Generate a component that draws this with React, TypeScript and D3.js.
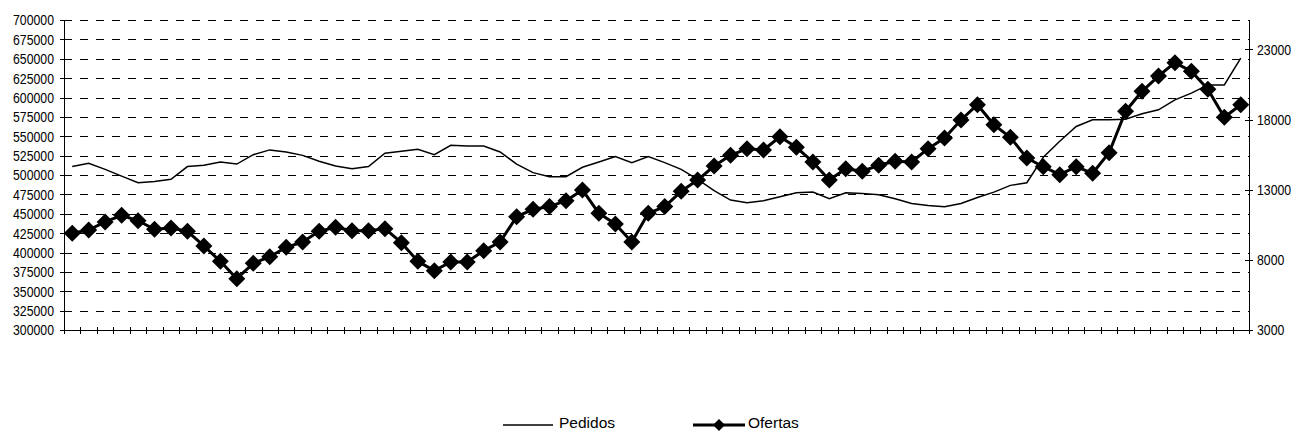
import React from "react";
import * as d3 from "d3";

const categories: string[] = Array.from({ length: 72 }, (_, i) => `P${i + 1}`);

const ofertas: number[] = [
  425000, 429000, 439400, 448000, 441000, 430000, 431600, 427300, 408400, 388600,
  366200, 386000, 394600, 406700, 413600, 427300, 432500, 428000, 428200, 430800,
  412700, 388600, 376600, 387700, 387700, 402400, 413600, 446200, 455700, 459200,
  466900, 480700, 450600, 436800, 413600, 450600, 459200, 478900, 493500, 511600,
  525400, 534000, 532300, 549400, 535700, 516800, 493500, 508200, 504800, 512500,
  517700, 516800, 534000, 547700, 571000, 590700, 564900, 548600, 521900, 510700,
  500400, 510700, 502200, 528800, 582200, 608000, 627700, 644900, 633800, 610600,
  574500, 590700,
];

const pedidos: number[] = [
  14650, 14880, 14450, 13970, 13500, 13590, 13740, 14650, 14740, 14980,
  14830, 15500, 15840, 15690, 15450, 15030, 14690, 14500, 14650, 15600,
  15740, 15890, 15500, 16170, 16120, 16120, 15690, 14830, 14220, 13930,
  13930, 14600, 14980, 15360, 14930, 15360, 14930, 14450, 13740, 12930,
  12260, 12070, 12210, 12500, 12790, 12830, 12360, 12790, 12740, 12640,
  12360, 12020, 11880, 11780, 12020, 12450, 12830, 13310, 13500, 15310,
  16460, 17510, 17980, 17980, 18030, 18410, 18700, 19410, 19890, 20470,
  20470, 22380,
];

const leftTicks: number[] = [300000, 325000, 350000, 375000, 400000, 425000, 450000, 475000, 500000, 525000, 550000, 575000, 600000, 625000, 650000, 675000, 700000];
const rightTicks: number[] = [3000, 8000, 13000, 18000, 23000];
const legendLabels: string[] = ["Pedidos", "Ofertas"];

const W = 1294;
const H = 432;
const L = 64;
const R = 1249;
const T = 20;
const B = 330;

const tickFont = '"Liberation Sans", Arial, sans-serif';
const legendFont = '"Liberation Sans", Arial, sans-serif';
const TICK_SIZE = 12.3;
const TICK_STRETCH = 1.22;
const LEG_Y = 425;

export default function App() {
  const x = d3.scaleBand<number>().domain(d3.range(categories.length)).range([L, R]).padding(0);
  const cx = (i: number) => (x(i) as number) + x.bandwidth() / 2;
  const yL = d3.scaleLinear().domain([300000, 700000]).range([B, T]);
  const yR = d3.scaleLinear().domain([3000, 25100]).range([B, T]);

  const linePed = d3.line<number>().x((_, i) => cx(i)).y((d) => yR(d));
  const lineOf = d3.line<number>().x((_, i) => cx(i)).y((d) => yL(d));

  const diamond = (px: number, py: number, r: number) =>
    `M${px},${py - r}L${px + r},${py}L${px},${py + r}L${px - r},${py}Z`;

  const boundaries = d3.range(categories.length + 1).map((i) => L + i * x.bandwidth());

  return (
    <svg
      width={W}
      height={H}
      style={{ position: "absolute", left: 0, top: 0, background: "#fff" }}
    >
      <rect x={0} y={0} width={W} height={H} fill="#fff" />
      {/* gridlines */}
      {leftTicks
        .filter((t) => t !== 300000)
        .map((t) => (
          <line
            key={"g" + t}
            x1={L}
            x2={R}
            y1={Math.round(yL(t)) + 0.5}
            y2={Math.round(yL(t)) + 0.5}
            stroke="#000"
            strokeWidth={1}
            strokeDasharray="8,8"
          />
        ))}
      {/* left axis */}
      <line x1={L + 0.5} x2={L + 0.5} y1={T} y2={B} stroke="#000" strokeWidth={1} />
      {leftTicks.map((t) => (
        <g key={"lt" + t}>
          <line x1={L - 4} x2={L + 0.5} y1={Math.round(yL(t)) + 0.5} y2={Math.round(yL(t)) + 0.5} stroke="#000" />
          <text
            transform={`translate(${L - 10},${yL(t)}) scale(1,${TICK_STRETCH})`}
            dy="0.36em"
            textAnchor="end"
            fontFamily={tickFont}
            fontSize={TICK_SIZE}
            fill="#000"
          >
            {t}
          </text>
        </g>
      ))}
      {/* right axis */}
      <line x1={R + 0.5} x2={R + 0.5} y1={T} y2={B} stroke="#000" strokeWidth={1} />
      {rightTicks.map((t) => (
        <g key={"rt" + t}>
          <line x1={R - 4} x2={R + 4} y1={Math.round(yR(t)) + 0.5} y2={Math.round(yR(t)) + 0.5} stroke="#000" />
          <text
            transform={`translate(${R + 8},${yR(t)}) scale(1,${TICK_STRETCH})`}
            dy="0.36em"
            textAnchor="start"
            fontFamily={tickFont}
            fontSize={TICK_SIZE}
            fill="#000"
          >
            {t}
          </text>
        </g>
      ))}
      {/* bottom axis */}
      <line x1={L} x2={R + 1} y1={B + 0.5} y2={B + 0.5} stroke="#000" strokeWidth={1} />
      {boundaries.map((bx, i) => (
        <line
          key={"bt" + i}
          x1={Math.round(bx) + 0.5}
          x2={Math.round(bx) + 0.5}
          y1={B - 3}
          y2={B + 4}
          stroke="#000"
        />
      ))}
      {/* Pedidos */}
      <path d={linePed(pedidos) || ""} fill="none" stroke="#000" strokeWidth={1.5} />
      {/* Ofertas */}
      <path d={lineOf(ofertas) || ""} fill="none" stroke="#000" strokeWidth={3} strokeLinejoin="round" />
      {ofertas.map((v, i) => (
        <path key={"d" + i} d={diamond(cx(i), yL(v), 8.5)} fill="#000" />
      ))}
      {/* legend */}
      <line x1={503} x2={553} y1={LEG_Y} y2={LEG_Y} stroke="#000" strokeWidth={1.5} />
      <text x={559} y={LEG_Y - 2} dy="0.35em" fontFamily={legendFont} fontSize={15.5} fill="#000">
        {legendLabels[0]}
      </text>
      <line x1={693} x2={745} y1={LEG_Y} y2={LEG_Y} stroke="#000" strokeWidth={3} />
      <path d={diamond(719, LEG_Y, 6)} fill="#000" />
      <text x={748} y={LEG_Y - 2} dy="0.35em" fontFamily={legendFont} fontSize={15.5} fill="#000">
        {legendLabels[1]}
      </text>
    </svg>
  );
}
